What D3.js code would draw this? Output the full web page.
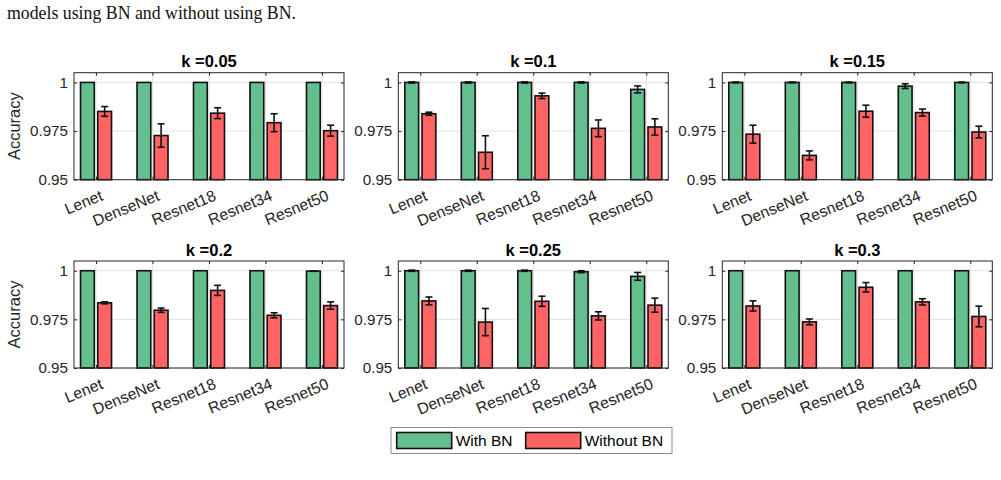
<!DOCTYPE html>
<html>
<head>
<meta charset="utf-8">
<script src="https://cdn.jsdelivr.net/npm/d3@7"></script>
<style>
  body { margin: 0; background: #fff; }
  svg { display: block; font-family: "Liberation Sans", Arial, sans-serif; }
</style>
</head>
<body>
<svg id="chart" width="1001" height="480"></svg>
<script>
// models on the x axis, one panel per k
const models = ['Lenet', 'DenseNet', 'Resnet18', 'Resnet34', 'Resnet50'];
const kValues = ['0.05', '0.1', '0.15', '0.2', '0.25', '0.3'];

// accuracy with BN, one row per k
const withBN = [
  [1, 1, 1, 1, 1],
  [1, 1, 1, 1, 0.9964],
  [1, 1, 1, 0.9981, 1],
  [1, 1, 1, 1, 0.9998],
  [1, 1, 1, 0.9995, 0.9971],
  [1, 1, 1, 1, 1],
];
const withBNErr = [
  [0, 0, 0, 0, 0],
  [0.0003, 0.0003, 0.0003, 0.0003, 0.0018],
  [0.0002, 0.0002, 0.0002, 0.0012, 0.0002],
  [0, 0, 0, 0, 0.0001],
  [0.0003, 0.0003, 0.0003, 0.0005, 0.002],
  [0, 0, 0, 0, 0],
];

// accuracy without BN
const withoutBN = [
  [0.9851, 0.9727, 0.9842, 0.9793, 0.9752],
  [0.9839, 0.9641, 0.9931, 0.9764, 0.9771],
  [0.9734, 0.9625, 0.9852, 0.9845, 0.9745],
  [0.9835, 0.9797, 0.9899, 0.9771, 0.9821],
  [0.9845, 0.9736, 0.9843, 0.9768, 0.9823],
  [0.9819, 0.9737, 0.9915, 0.984, 0.9765],
];
const withoutBNErr = [
  [0.0025, 0.006, 0.0028, 0.0046, 0.0028],
  [0.0008, 0.0085, 0.0014, 0.0043, 0.0042],
  [0.0046, 0.0023, 0.0031, 0.0018, 0.003],
  [0.0005, 0.0011, 0.0026, 0.0013, 0.0019],
  [0.002, 0.007, 0.0026, 0.0021, 0.0036],
  [0.0026, 0.0015, 0.0024, 0.0016, 0.0053],
];

const yTicks = [0.95, 0.975, 1];
const seriesNames = ['With BN', 'Without BN'];
const seriesColors = ['#64bf8e', '#ff6363'];

const panelLefts = [74, 398.3, 722.3];
const panelTops = [72.7, 261];
const panelW = 270;
const panelH = 107;
const axisColor = '#262626';

const svg = d3.select('#chart');

// caption line from the paper above the figure
svg.append('text')
  .attr('x', 7)
  .attr('y', 19)
  .attr('font-family', '"Liberation Serif", "Times New Roman", serif')
  .attr('font-size', 17.8)
  .attr('fill', '#111')
  .text('models using BN and without using BN.');

kValues.forEach((k, i) => {
  const col = i % 3;
  const row = Math.floor(i / 3);
  const g = svg.append('g')
    .attr('transform', `translate(${panelLefts[col]},${panelTops[row]})`);

  const x = d3.scalePoint()
    .domain(models)
    .range([0, panelW])
    .padding(0.39);

  const xSub = d3.scaleBand()
    .domain([0, 1])
    .range([-15.5, 15.5])
    .paddingInner(0.2);

  const y = d3.scaleLinear()
    .domain([0.95, 1.005])
    .range([panelH, 0]);

  // grid
  g.append('g')
    .selectAll('line')
    .data(yTicks)
    .join('line')
    .attr('x1', 0)
    .attr('x2', panelW)
    .attr('y1', (d) => y(d))
    .attr('y2', (d) => y(d))
    .attr('stroke', '#e3e3e3')
    .attr('stroke-width', 1);

  g.append('g')
    .selectAll('line')
    .data(models)
    .join('line')
    .attr('x1', (d) => x(d))
    .attr('x2', (d) => x(d))
    .attr('y1', 0)
    .attr('y2', panelH)
    .attr('stroke', '#e3e3e3')
    .attr('stroke-width', 1);

  const series = [withBN[i], withoutBN[i]];
  const errs = [withBNErr[i], withoutBNErr[i]];

  series.forEach((vals, s) => {
    const data = models.map((m, j) => ({ m, v: vals[j], e: errs[s][j] }));
    g.append('g')
      .selectAll('rect')
      .data(data)
      .join('rect')
      .attr('x', (d) => x(d.m) + xSub(s))
      .attr('y', (d) => y(d.v))
      .attr('width', xSub.bandwidth())
      .attr('height', (d) => y(0.95) - y(d.v))
      .attr('fill', seriesColors[s])
      .attr('stroke', '#111')
      .attr('stroke-width', 1.6);

    const eb = g.append('g')
      .attr('stroke', '#111')
      .attr('stroke-width', 1.6)
      .selectAll('g')
      .data(data.filter((d) => d.e > 0))
      .join('g')
      .attr('transform', (d) => `translate(${x(d.m) + xSub(s) + xSub.bandwidth() / 2},0)`);
    eb.append('line')
      .attr('y1', (d) => y(d.v - d.e))
      .attr('y2', (d) => y(d.v + d.e));
    eb.append('line')
      .attr('x1', -3.5).attr('x2', 3.5)
      .attr('y1', (d) => y(d.v - d.e))
      .attr('y2', (d) => y(d.v - d.e));
    eb.append('line')
      .attr('x1', -3.5).attr('x2', 3.5)
      .attr('y1', (d) => y(d.v + d.e))
      .attr('y2', (d) => y(d.v + d.e));
  });

  // box
  g.append('rect')
    .attr('width', panelW)
    .attr('height', panelH)
    .attr('fill', 'none')
    .attr('stroke', axisColor)
    .attr('stroke-width', 1);

  // y axis
  const yAxis = g.append('g')
    .call(d3.axisLeft(y).tickValues(yTicks).tickSize(-3).tickPadding(6)
      .tickFormat((d) => (d === 1 ? '1' : d3.format('')(d))));
  yAxis.select('.domain').remove();
  yAxis.selectAll('line').attr('stroke', axisColor);
  yAxis.selectAll('text')
    .attr('font-size', 15.2)
    .attr('fill', axisColor)
    .attr('font-family', '"Liberation Sans", Arial, sans-serif');

  // ticks on the right side too
  g.append('g')
    .attr('transform', `translate(${panelW},0)`)
    .call(d3.axisRight(y).tickValues(yTicks).tickSize(-3).tickFormat(''))
    .call((a) => a.select('.domain').remove())
    .selectAll('line').attr('stroke', axisColor);

  // x axis with rotated labels
  const xAxis = g.append('g')
    .attr('transform', `translate(0,${panelH})`)
    .call(d3.axisBottom(x).tickSize(-3).tickSizeOuter(0));
  xAxis.select('.domain').remove();
  xAxis.selectAll('line').attr('stroke', axisColor);
  xAxis.selectAll('text')
    .attr('font-size', 15.8)
    .attr('fill', axisColor)
    .attr('font-family', '"Liberation Sans", Arial, sans-serif')
    .attr('text-anchor', 'end')
    .attr('dy', null)
    .attr('y', null)
    .attr('transform', 'translate(7.5,20) rotate(-22.5)');

  g.append('g')
    .call(d3.axisTop(x).tickSize(-3).tickFormat(''))
    .call((a) => a.select('.domain').remove())
    .selectAll('line').attr('stroke', axisColor);

  // title
  g.append('text')
    .attr('x', panelW / 2)
    .attr('y', -5.5)
    .attr('text-anchor', 'middle')
    .attr('font-size', 16.5)
    .attr('font-weight', 'bold')
    .attr('fill', '#000')
    .text(`k =${k}`);

  if (col === 0) {
    g.append('text')
      .attr('transform', `translate(-54,${panelH / 2}) rotate(-90)`)
      .attr('text-anchor', 'middle')
      .attr('font-size', 16.5)
      .attr('fill', axisColor)
      .text('Accuracy');
  }
});

// legend
const legend = svg.append('g').attr('transform', 'translate(391,427.5)');
legend.append('rect')
  .attr('width', 281)
  .attr('height', 26)
  .attr('fill', '#fff')
  .attr('stroke', '#8c8c8c')
  .attr('stroke-width', 1);
const legendX = [5.7, 134.7];
seriesNames.forEach((name, s) => {
  legend.append('rect')
    .attr('x', legendX[s])
    .attr('y', 5)
    .attr('width', 55)
    .attr('height', 16)
    .attr('fill', seriesColors[s])
    .attr('stroke', '#111')
    .attr('stroke-width', 1.6);
  legend.append('text')
    .attr('x', legendX[s] + 59)
    .attr('y', 18.8)
    .attr('font-size', 15.5)
    .attr('fill', '#000')
    .text(name);
});
</script>
</body>
</html>
